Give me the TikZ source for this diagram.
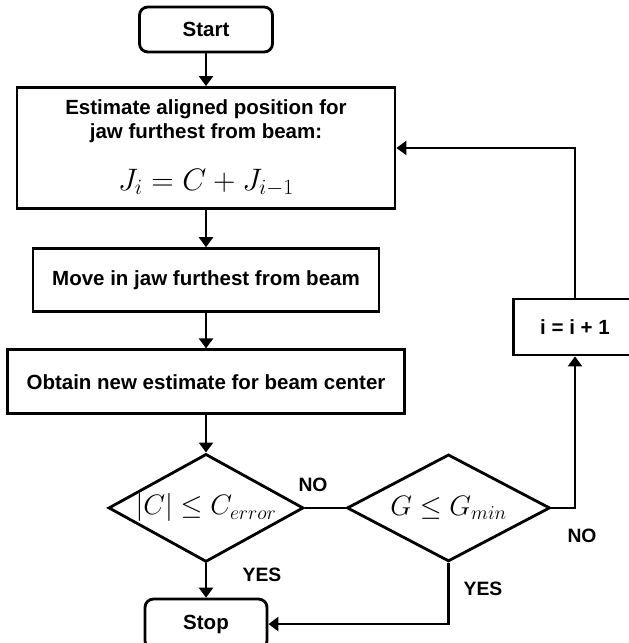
\documentclass[tikz,border=0pt]{standalone}
\usepackage{fix-cm}
\usepackage{fontspec}
\setsansfont{Liberation Sans}
\usetikzlibrary{arrows.meta,positioning,shapes.geometric}

\begin{document}
\begin{tikzpicture}[
  block/.style={draw, line width=2.4pt, align=center, inner sep=2pt},
  term/.style={block, rounded corners=0.25cm, minimum width=3.99cm, minimum height=1.35cm},
  test/.style={draw, diamond, line width=2.4pt, aspect=1.8, inner sep=0pt, font=\fontsize{24}{28}\selectfont},
  lbl/.style={font=\fontsize{16.5}{19}\selectfont\sffamily\bfseries},
  arrow/.style={-{Triangle[length=0.3cm,width=0.42cm]}, line width=2.4pt},
  line/.style={line width=2.4pt},
  every node/.style={font=\fontsize{17.5}{20.5}\selectfont\sffamily\bfseries}
]
\useasboundingbox (0,0) rectangle (18.84,-19.29);

\node[term] (start) at (6.18,-0.885) {Start};
\node[block, below=0.98cm of start, minimum width=11.34cm, minimum height=3.63cm] (est) {Estimate aligned position for\\jaw furthest from beam:\\[0.75cm]{\fontsize{26.5}{30}\selectfont$J_i = C + J_{i-1}$}};
\node[block, below=1.12cm of est, minimum width=10.38cm, minimum height=1.89cm] (move) {Move in jaw furthest from beam};
\node[block, below=1.06cm of move, minimum width=11.91cm, minimum height=1.92cm] (obtain) {Obtain new estimate for beam center};
\node[test, below=1.12cm of obtain, minimum width=5.85cm, minimum height=3.24cm] (err) {$|C| \leq C_{error}$};
\node[test, right=1.22cm of err, minimum width=6.09cm, minimum height=3.21cm] (gain) {$G \leq G_{min}$};
\node[term, below=1.03cm of err, minimum width=3.66cm, minimum height=1.5cm] (stop) {Stop};
\node[block, minimum width=3.7cm, minimum height=1.68cm] (inc) at (17.25,-9.81) {i = i + 1};

% branch labels
\node[lbl] (no1) at (9.39,-14.55) {NO};
\node[lbl] (no2) at (17.46,-16.08) {NO};
\node[lbl] (yes1) at (7.86,-17.25) {YES};
\node[lbl] (yes2) at (14.49,-17.67) {YES};

\draw[arrow] (start) -- (est);
\draw[arrow] (est) -- (move);
\draw[arrow] (move) -- (obtain);
\draw[arrow] (obtain) -- (err);
\draw[arrow] (err) -- (stop);
\draw[line] (err) -- (gain);
\draw[arrow] (gain.east) -| (inc.south);
\draw[arrow] (inc.north) |- (est.east);
\draw[arrow] (gain.south) |- (stop.east);
\end{tikzpicture}
\end{document}
